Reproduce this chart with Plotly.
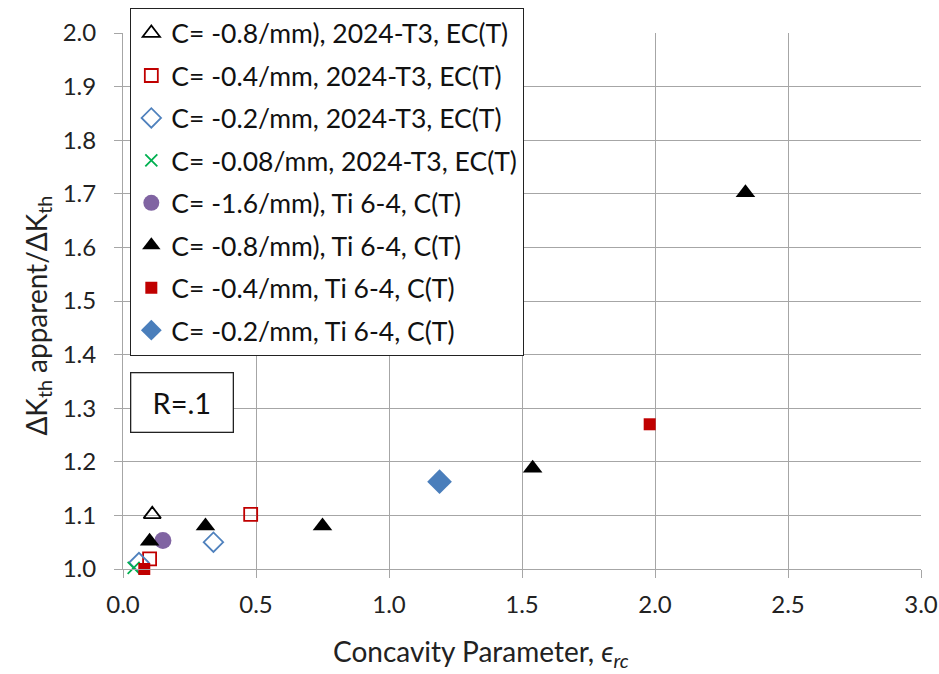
import plotly.graph_objects as go

# Concavity parameter vs. apparent threshold ratio, per specimen series
names = [
    "C= -0.8/mm), 2024-T3, EC(T)",
    "C= -0.4/mm, 2024-T3, EC(T)",
    "C= -0.2/mm, 2024-T3, EC(T)",
    "C= -0.08/mm, 2024-T3, EC(T)",
    "C= -1.6/mm), Ti 6-4, C(T)",
    "C= -0.8/mm), Ti 6-4, C(T)",
    "C= -0.4/mm, Ti 6-4, C(T)",
    "C= -0.2/mm, Ti 6-4, C(T)",
]

al_08_x = [0.11]
al_08_y = [1.102]
al_04_x = [0.10, 0.48]
al_04_y = [1.019, 1.102]
al_02_x = [0.06, 0.34]
al_02_y = [1.012, 1.050]
al_008_x = [0.04]
al_008_y = [1.002]
ti_16_x = [0.15]
ti_16_y = [1.053]
ti_08_x = [0.10, 0.31, 0.75, 1.54, 2.34]
ti_08_y = [1.052, 1.080, 1.080, 1.188, 1.702]
ti_04_x = [0.08, 1.98]
ti_04_y = [1.000, 1.270]
ti_02_x = [1.19]
ti_02_y = [1.163]

xs = [al_08_x, al_04_x, al_02_x, al_008_x, ti_16_x, ti_08_x, ti_04_x, ti_02_x]
ys = [al_08_y, al_04_y, al_02_y, al_008_y, ti_16_y, ti_08_y, ti_04_y, ti_02_y]

styles = [
    dict(symbol="triangle-up-open", color="#000000", size=15, line=dict(width=1.8, color="#000000")),
    dict(symbol="square-open", color="#C00000", size=13, line=dict(width=1.8, color="#C00000")),
    dict(symbol="diamond-open", color="#4F81BD", size=15, line=dict(width=1.8, color="#4F81BD")),
    dict(symbol="x-thin-open", color="#00B050", size=12, line=dict(width=1.8, color="#00B050")),
    dict(symbol="circle", color="#8064A2", size=17, line=dict(width=0)),
    dict(symbol="triangle-up", color="#000000", size=17, line=dict(width=0)),
    dict(symbol="square", color="#C00000", size=12, line=dict(width=0)),
    dict(symbol="diamond", color="#4A7EBB", size=19, line=dict(width=0)),
]

fig = go.Figure()
for name, x, y, st in zip(names, xs, ys, styles):
    fig.add_trace(go.Scatter(
        x=x, y=y, mode="markers", name=name, legendgroup=name,
        marker=st, cliponaxis=False,
    ))

font_family = "Lato, 'Open Sans', sans-serif"
grid = "#A6A6A6"

fig.update_layout(
    width=939, height=674,
    margin=dict(l=123, r=18, t=33, b=105, autoexpand=False),
    paper_bgcolor="white", plot_bgcolor="white",
    font=dict(family=font_family, size=24, color="#222222"),
    showlegend=True,
    legend=dict(
        x=0.0088, y=1.0466, xanchor="left", yanchor="top",
        bordercolor="#222222", borderwidth=1.3, bgcolor="white",
        font=dict(family=font_family, size=26.5, color="#111111"),
        tracegroupgap=5, traceorder="grouped", maxheight=600,
    ),
    xaxis=dict(
        range=[0, 3.0], dtick=0.5, tickformat=".1f", automargin=False,
        showgrid=True, gridcolor=grid, gridwidth=1,
        showline=True, linecolor=grid, linewidth=1,
        ticks="outside", ticklen=8, tickcolor=grid,
        zeroline=False, tickfont=dict(size=24), ticklabelstandoff=6,
    ),
    yaxis=dict(
        range=[1.0, 2.0], dtick=0.1, tickformat=".1f", automargin=False,
        showgrid=True, gridcolor=grid, gridwidth=1,
        showline=True, linecolor=grid, linewidth=1,
        ticks="outside", ticklen=8, tickcolor=grid,
        zeroline=False, tickfont=dict(size=24), ticklabelstandoff=13,
    ),
    annotations=[
        dict(
            x=0.449, y=-0.157, xref="paper", yref="paper",
            xanchor="center", yanchor="middle",
            text="Concavity Parameter, <i>ϵ<sub>rc</sub></i>", showarrow=False,
            font=dict(family=font_family, size=28, color="#222222"),
        ),
        dict(
            x=-0.107, y=0.472, xref="paper", yref="paper",
            xanchor="center", yanchor="middle", textangle=-90,
            text="ΔK<sub>th</sub> apparent/ΔK<sub>th</sub>", showarrow=False,
            font=dict(family=font_family, size=28, color="#222222"),
        ),
        dict(
            x=0.0088, y=0.3675, xref="paper", yref="paper",
            xanchor="left", yanchor="top",
            text="R=.1", showarrow=False,
            font=dict(family=font_family, size=29, color="#111111"),
            bordercolor="#222222", borderwidth=1.3, borderpad=1,
            width=99, height=56, bgcolor="white",
        ),
    ],
)

fig.write_html("out.html")
